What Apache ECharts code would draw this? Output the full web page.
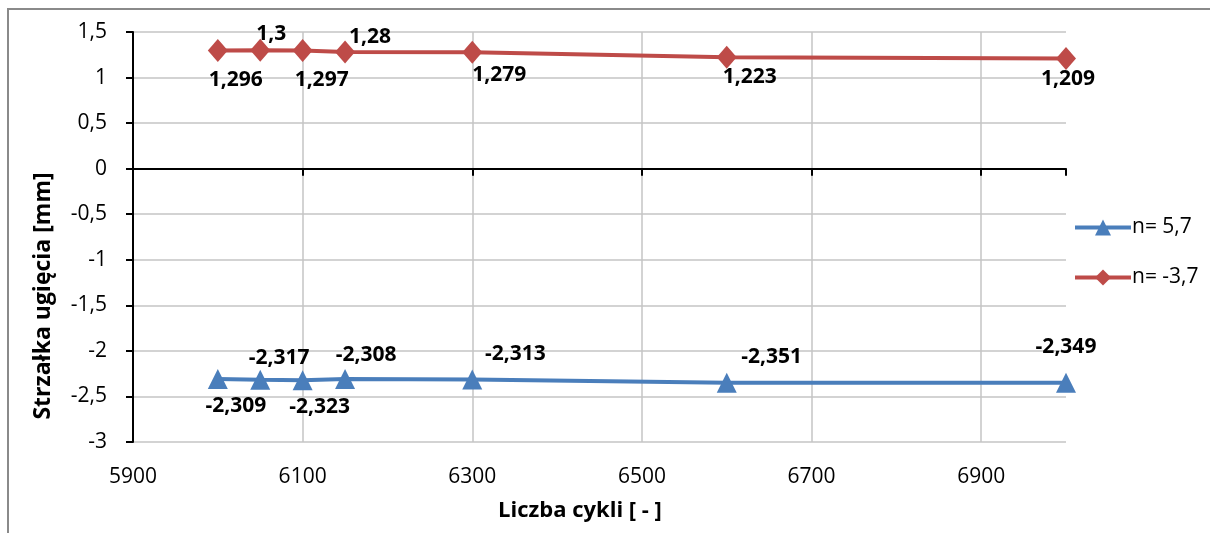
<!DOCTYPE html>
<html>
<head>
<meta charset="utf-8">
<style>
  html, body { margin: 0; padding: 0; background: #fff; }
  #chart { width: 1210px; height: 533px; }
</style>
<script src="https://cdn.jsdelivr.net/npm/echarts@6/dist/echarts.min.js"></script>
</head>
<body>
<div id="chart"></div>
<script>
// Number of load cycles (x) for both measurement series
const cycles = [6000, 6050, 6100, 6150, 6300, 6600, 7000];

// Deflection [mm] for n = 5,7 and n = -3,7
const deflectionN57 = [-2.309, -2.317, -2.323, -2.308, -2.313, -2.351, -2.349];
const deflectionNm37 = [1.296, 1.3, 1.297, 1.28, 1.279, 1.223, 1.209];

const seriesNames = ['n= 5,7', 'n= -3,7'];

// Axis ranges / tick steps
const xRange = [5900, 7000];
const xStep = 200;
const yRange = [-3, 1.5];
const yStep = 0.5;

// Label offsets (px) from each marker so the value labels do not overlap
const labelShiftN57 = [[18, 27], [19, -22], [17, 27], [21, -24], [43, -25], [45, -26], [0, -36]];
const labelShiftNm37 = [[18, 29], [11, -16], [19, 30], [25, -15], [27, 23], [23, 20], [2, 21]];

const FONT = '"Open Sans", Lato, sans-serif';
const comma = v => String(v).replace('.', ',');

function buildPoints(values, shifts) {
  return cycles.map((c, i) => ({
    value: [c, values[i]],
    label: { offset: shifts[i] }
  }));
}

const valueLabel = {
  show: true,
  position: 'inside',
  fontFamily: FONT,
  fontWeight: 'bold',
  fontSize: 21,
  color: '#000',
  formatter: p => comma(p.value[1])
};

const legendBase = {
  left: 1068,
  itemWidth: 56, itemHeight: 20, itemGap: 5,
  lineStyle: { width: 4 },
  textStyle: { fontFamily: FONT, fontSize: 21, color: '#000', padding: [0, 0, 0, -4] }
};

const chart = echarts.init(document.getElementById('chart'), null, { renderer: 'canvas' });

chart.setOption({
  backgroundColor: '#fff',
  animation: false,
  grid: { left: 133, top: 32, right: 144, bottom: 91, containLabel: false },
  graphic: [
    {
      type: 'rect',
      shape: { x: 8, y: 9, width: 1400, height: 700 },
      style: { fill: null, stroke: '#8a8a8a', lineWidth: 2 },
      silent: true
    },
    {
      type: 'text',
      x: 580, y: 511,
      style: {
        text: 'Liczba cykli [ - ]', fontFamily: FONT, fontWeight: 'bold', fontSize: 22,
        fill: '#000', align: 'center', verticalAlign: 'middle'
      }
    },
    {
      type: 'text',
      x: 43, y: 296, rotation: Math.PI / 2,
      style: {
        text: 'Strzałka ugięcia [mm]', fontFamily: FONT, fontWeight: 'bold', fontSize: 23,
        fill: '#000', align: 'center', verticalAlign: 'middle'
      }
    }
  ],
  legend: [
    Object.assign({ data: [seriesNames[0]], top: 212 }, legendBase),
    Object.assign({ data: [seriesNames[1]], top: 262 }, legendBase)
  ],
  xAxis: [
    {
      type: 'value',
      min: xRange[0], max: xRange[1], interval: xStep,
      position: 'bottom',
      axisLine: { show: false, onZero: false },
      axisTick: { show: false },
      axisLabel: {
        margin: 25, fontFamily: FONT, fontSize: 21, color: '#000',
        showMaxLabel: false,
        formatter: v => String(v)
      },
      splitLine: {
        show: true, showMinLine: false, showMaxLine: false,
        lineStyle: { color: '#c4c4c4', width: 1.5 }
      }
    },
    {
      type: 'value',
      min: xRange[0], max: xRange[1], interval: xStep,
      position: 'bottom',
      axisLine: { show: true, onZero: true, lineStyle: { color: '#000', width: 2 } },
      axisTick: { show: true, length: 7, lineStyle: { color: '#000', width: 2 } },
      axisLabel: { show: false },
      splitLine: { show: false }
    }
  ],
  yAxis: {
    type: 'value',
    min: yRange[0], max: yRange[1], interval: yStep,
    axisLine: { show: true, onZero: false, lineStyle: { color: '#000', width: 2 } },
    axisTick: { show: true, length: 7, lineStyle: { color: '#000', width: 2 } },
    axisLabel: {
      margin: 26, fontFamily: FONT, fontSize: 21, color: '#000',
      formatter: v => comma(v)
    },
    splitLine: { show: true, lineStyle: { color: '#c4c4c4', width: 1.5 } }
  },
  series: [
    {
      name: seriesNames[0],
      type: 'line',
      xAxisIndex: 0,
      data: buildPoints(deflectionN57, labelShiftN57),
      symbol: 'triangle',
      symbolSize: 20,
      showAllSymbol: true,
      color: '#4a7ebb',
      lineStyle: { color: '#4a7ebb', width: 4 },
      itemStyle: { color: '#4a7ebb' },
      label: valueLabel,
      z: 3
    },
    {
      name: seriesNames[1],
      type: 'line',
      xAxisIndex: 0,
      data: buildPoints(deflectionNm37, labelShiftNm37),
      symbol: 'diamond',
      symbolSize: [20, 23],
      showAllSymbol: true,
      color: '#be4b48',
      lineStyle: { color: '#be4b48', width: 4 },
      itemStyle: { color: '#be4b48' },
      label: valueLabel,
      z: 3
    }
  ]
});
</script>
</body>
</html>
